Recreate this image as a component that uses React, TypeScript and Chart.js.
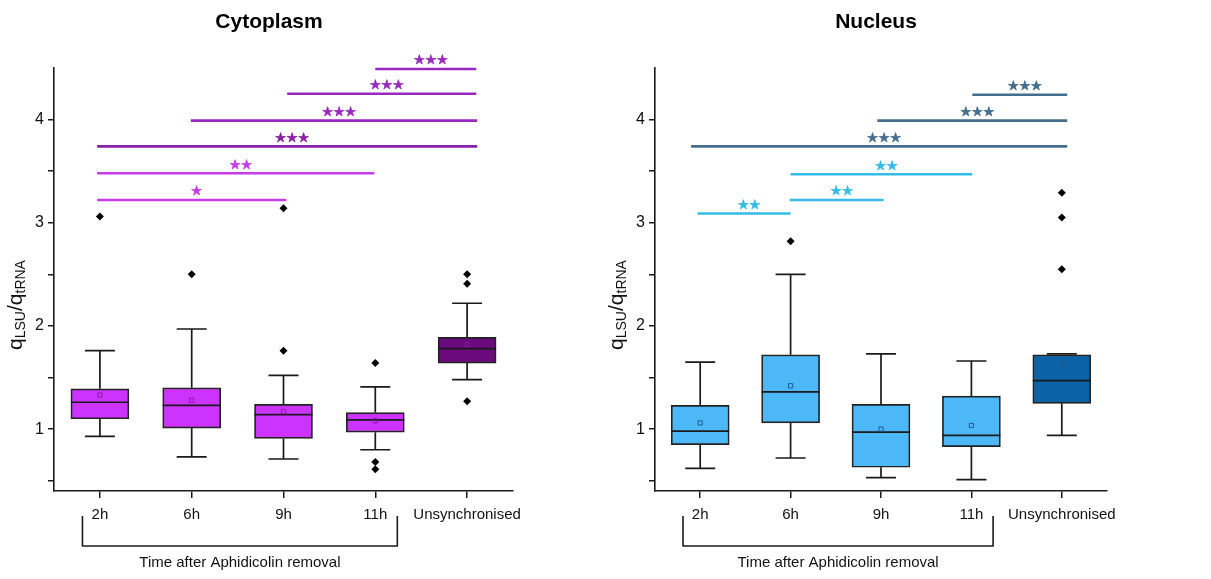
import React, { useEffect, useRef } from 'react';
import { Chart, registerables } from 'chart.js';

Chart.register(...registerables);

// ---------- data ----------
const categories = ['2h', '6h', '9h', '11h', 'Unsynchronised'];
const yMajorTicks = [1, 2, 3, 4];
const yMinorTicks = [0.5, 1.5, 2.5, 3.5];

// Cytoplasm
const cytoWhiskerLow = [0.93, 0.73, 0.71, 0.8, 1.48];
const cytoQ1 = [1.1, 1.01, 0.91, 0.97, 1.64];
const cytoMedian = [1.26, 1.23, 1.14, 1.09, 1.78];
const cytoQ3 = [1.39, 1.4, 1.24, 1.16, 1.89];
const cytoWhiskerHigh = [1.76, 1.97, 1.52, 1.41, 2.22];
const cytoMean = [1.33, 1.28, 1.17, 1.08, 1.82];
const cytoOutliers = [[3.06], [2.5], [1.76, 3.14], [1.64, 0.68, 0.61], [2.5, 2.41, 1.27]];
const cytoSigFrom = [-0.03, -0.03, -0.03, 0.99, 2.04, 3.0];
const cytoSigTo = [2.03, 2.99, 4.11, 4.11, 4.1, 4.1];
const cytoSigY = [3.22, 3.48, 3.74, 3.99, 4.25, 4.49];
const cytoSigLabel = ['*', '**', '***', '***', '***', '***'];

// Nucleus
const nucWhiskerLow = [0.62, 0.72, 0.53, 0.51, 0.94];
const nucQ1 = [0.85, 1.06, 0.63, 0.83, 1.25];
const nucMedian = [0.98, 1.36, 0.97, 0.94, 1.47];
const nucQ3 = [1.23, 1.72, 1.24, 1.32, 1.72];
const nucWhiskerHigh = [1.65, 2.5, 1.73, 1.66, 1.73];
const nucMean = [1.06, 1.42, 1.0, 1.035, 1.64];
const nucOutliers = [[], [2.82], [], [], [2.55, 3.05, 3.29]];
const nucSigFrom = [-0.03, 0.99, 1.0, -0.1, 1.96, 3.01];
const nucSigTo = [1.0, 2.03, 3.01, 4.06, 4.06, 4.06];
const nucSigY = [3.09, 3.22, 3.47, 3.74, 3.99, 4.24];
const nucSigLabel = ['**', '**', '**', '***', '***', '***'];

// bracket under the time points (category units)
const bracketFrom = -0.19;
const bracketTo = 3.24;
const bracketLabel = 'Time after Aphidicolin removal';

const FONT = '"Liberation Sans", Arial, sans-serif';
const TEXT = '#111111';
const H = 579;

type Panel = {
  title: string;
  titleX: number;
  yLabelX: number;
  axisWidth: number;
  padRight: number;
  low: number[];
  q1: number[];
  med: number[];
  q3: number[];
  high: number[];
  mean: number[];
  outliers: number[][];
  sigFrom: number[];
  sigTo: number[];
  sigY: number[];
  sigLabel: string[];
  sigColors: string[];
  boxColors: string[];
  meanColor: string;
};

const cytoPanel: Panel = {
  title: 'Cytoplasm',
  titleX: 269,
  yLabelX: 18,
  axisWidth: 54,
  padRight: 87,
  low: cytoWhiskerLow,
  q1: cytoQ1,
  med: cytoMedian,
  q3: cytoQ3,
  high: cytoWhiskerHigh,
  mean: cytoMean,
  outliers: cytoOutliers,
  sigFrom: cytoSigFrom,
  sigTo: cytoSigTo,
  sigY: cytoSigY,
  sigLabel: cytoSigLabel,
  sigColors: ['#c43de6', '#c43de6', '#8a1fa8', '#9a28c0', '#9a28c0', '#9a28c0'],
  boxColors: ['#cc33ff', '#cc33ff', '#cc33ff', '#cc33ff', '#6a0a7c'],
  meanColor: '#8a1aa0',
};

const nucPanel: Panel = {
  title: 'Nucleus',
  titleX: 276,
  yLabelX: 19,
  axisWidth: 55,
  padRight: 104,
  low: nucWhiskerLow,
  q1: nucQ1,
  med: nucMedian,
  q3: nucQ3,
  high: nucWhiskerHigh,
  mean: nucMean,
  outliers: nucOutliers,
  sigFrom: nucSigFrom,
  sigTo: nucSigTo,
  sigY: nucSigY,
  sigLabel: nucSigLabel,
  sigColors: ['#33bde6', '#33bde6', '#33bde6', '#436e8e', '#436e8e', '#436e8e'],
  boxColors: ['#4db8f8', '#4db8f8', '#4db8f8', '#4db8f8', '#0b62a6'],
  meanColor: '#1f5a8a',
};

function BoxPanel({ panel, left, width }: { panel: Panel; left: number; width: number }) {
  const ref = useRef<HTMLCanvasElement>(null);

  useEffect(() => {
    const cv = ref.current;
    if (!cv) return;
    const p = panel;

    const plugin = {
      id: 'boxExtras',
      afterDatasetDraw(chart: any, args: any) {
        if (args.index !== 0) return;
        const ctx = chart.ctx;
        const xs = chart.scales.x;
        const ys = chart.scales.y;
        const meta = chart.getDatasetMeta(0);
        const cap = 30;
        ctx.save();
        ctx.strokeStyle = '#1a1a1a';
        ctx.lineWidth = 1.7;
        categories.forEach((_, i) => {
          const px = xs.getPixelForValue(i);
          const w = meta.data[i].width;
          const yLo = ys.getPixelForValue(p.low[i]);
          const yQ1 = ys.getPixelForValue(p.q1[i]);
          const yMed = ys.getPixelForValue(p.med[i]);
          const yQ3 = ys.getPixelForValue(p.q3[i]);
          const yHi = ys.getPixelForValue(p.high[i]);
          ctx.beginPath();
          ctx.moveTo(px, yQ3);
          ctx.lineTo(px, yHi);
          ctx.moveTo(px - cap / 2, yHi);
          ctx.lineTo(px + cap / 2, yHi);
          ctx.moveTo(px, yQ1);
          ctx.lineTo(px, yLo);
          ctx.moveTo(px - cap / 2, yLo);
          ctx.lineTo(px + cap / 2, yLo);
          ctx.moveTo(px - w / 2, yMed);
          ctx.lineTo(px + w / 2, yMed);
          ctx.stroke();
        });
        ctx.restore();
      },
      afterDraw(chart: any) {
        const ctx = chart.ctx;
        const xs = chart.scales.x;
        const ys = chart.scales.y;
        ctx.save();
        // significance stars
        ctx.font = '13px "DejaVu Sans", sans-serif';
        ctx.textAlign = 'center';
        ctx.textBaseline = 'middle';
        ctx.lineWidth = 0.6;
        ctx.lineJoin = 'round';
        p.sigLabel.forEach((lab, k) => {
          const mid = (xs.getPixelForValue(p.sigFrom[k]) + xs.getPixelForValue(p.sigTo[k])) / 2 + 5;
          const y = ys.getPixelForValue(p.sigY[k]);
          ctx.fillStyle = p.sigColors[k];
          ctx.strokeStyle = p.sigColors[k];
          const n = lab.length;
          for (let j = 0; j < n; j++) {
            const sx = mid + (j - (n - 1) / 2) * 11.5;
            ctx.fillText('★', sx, y - 8);
            ctx.strokeText('★', sx, y - 8);
          }
        });
        // title
        ctx.fillStyle = '#000';
        ctx.font = `bold 21px ${FONT}`;
        ctx.fillText(p.title, p.titleX, 22);
        // y axis label q_LSU / q_tRNA
        const big = `21px ${FONT}`;
        const small = `14px ${FONT}`;
        const parts: [string, string, number][] = [
          ['q', big, 0],
          ['LSU', small, 5],
          ['/q', big, 0],
          ['tRNA', small, 5],
        ];
        let total = 0;
        parts.forEach(([t, f]) => {
          ctx.font = f;
          total += ctx.measureText(t).width;
        });
        ctx.translate(p.yLabelX, 305);
        ctx.rotate(-Math.PI / 2);
        ctx.textAlign = 'left';
        ctx.textBaseline = 'middle';
        ctx.fillStyle = TEXT;
        let cx = -total / 2;
        parts.forEach(([t, f, dy]) => {
          ctx.font = f;
          ctx.fillText(t, cx, dy - 2);
          cx += ctx.measureText(t).width;
        });
        ctx.setTransform(1, 0, 0, 1, 0, 0);
        // bracket
        const bx0 = xs.getPixelForValue(bracketFrom);
        const bx1 = xs.getPixelForValue(bracketTo);
        ctx.strokeStyle = '#1a1a1a';
        ctx.lineWidth = 1.6;
        ctx.beginPath();
        ctx.moveTo(bx0, 516);
        ctx.lineTo(bx0, 546);
        ctx.lineTo(bx1, 546);
        ctx.lineTo(bx1, 516);
        ctx.stroke();
        ctx.font = `15px ${FONT}`;
        ctx.textAlign = 'center';
        ctx.textBaseline = 'middle';
        ctx.fillStyle = TEXT;
        ctx.fillText(bracketLabel, (bx0 + bx1) / 2, 563);
        ctx.restore();
      },
    };

    const outlierPts: { x: number; y: number }[] = [];
    p.outliers.forEach((arr, i) => arr.forEach((v) => outlierPts.push({ x: i, y: v })));

    const sigDatasets = p.sigY.map((y, k) => ({
      type: 'line' as const,
      data: [
        { x: p.sigFrom[k], y },
        { x: p.sigTo[k], y },
      ],
      borderColor: p.sigColors[k],
      borderWidth: 2.6,
      pointRadius: 0,
      fill: false,
      clip: false as any,
      order: 5,
    }));

    const chart = new Chart(cv, {
      type: 'bar',
      data: {
        datasets: [
          {
            type: 'bar',
            data: categories.map((_, i) => ({ x: i, y: [p.q1[i], p.q3[i]] })) as any,
            backgroundColor: p.boxColors,
            borderColor: '#222',
            borderWidth: 1.7,
            borderSkipped: false,
            barThickness: 58,
            order: 10,
          },
          ...sigDatasets,
          {
            type: 'scatter',
            data: outlierPts,
            pointStyle: 'rectRot',
            pointRadius: 4,
            backgroundColor: '#000',
            borderColor: '#000',
            borderWidth: 0,
            order: 1,
          },
          {
            type: 'scatter',
            data: p.mean.map((v, i) => ({ x: i, y: v })),
            pointStyle: 'rect',
            pointRadius: 3,
            backgroundColor: 'rgba(0,0,0,0)',
            borderColor: p.meanColor,
            borderWidth: 1,
            order: 0,
          },
        ] as any,
      },
      options: {
        responsive: false,
        animation: false,
        devicePixelRatio: 1,
        layout: { padding: { top: 68, right: p.padRight, bottom: 0, left: 0 } },
        plugins: { legend: { display: false }, tooltip: { enabled: false }, title: { display: false } },
        scales: {
          x: {
            type: 'linear',
            min: -0.5,
            max: 4.5,
            offset: false,
            afterBuildTicks: (s: any) => {
              s.ticks = categories.map((_, i) => ({ value: i }));
            },
            afterFit: (s: any) => {
              s.height = 88;
            },
            ticks: {
              callback: (v: any) => categories[Math.round(Number(v))] ?? '',
              font: { family: FONT, size: 15 },
              color: TEXT,
              padding: 8,
              autoSkip: false,
              maxRotation: 0,
              minRotation: 0,
            },
            grid: { offset: false, drawOnChartArea: false, drawTicks: true, tickLength: 7, color: '#1a1a1a', lineWidth: 1.5 },
            border: { display: true, color: '#1a1a1a', width: 1.6 },
          },
          y: {
            type: 'linear',
            min: 0.4,
            max: 4.5,
            afterBuildTicks: (s: any) => {
              s.ticks = [...yMinorTicks, ...yMajorTicks].sort((a, b) => a - b).map((v) => ({ value: v }));
            },
            afterFit: (s: any) => {
              s.width = p.axisWidth;
            },
            ticks: {
              callback: (v: any) => (Number.isInteger(Number(v)) ? String(v) : ''),
              font: { family: FONT, size: 16 },
              color: TEXT,
              padding: 4,
            },
            grid: { offset: false, drawOnChartArea: false, drawTicks: true, tickLength: 6, color: '#1a1a1a', lineWidth: 1.5 },
            border: { display: true, color: '#1a1a1a', width: 1.6 },
          },
        },
      } as any,
      plugins: [plugin],
    });

    return () => chart.destroy();
  }, [panel]);

  return (
    <div style={{ position: 'absolute', left, top: 0, width, height: H }}>
      <canvas ref={ref} width={width} height={H} style={{ width, height: H, display: 'block' }} />
    </div>
  );
}

export default function App() {
  return (
    <div style={{ position: 'absolute', left: 0, top: 0, width: 1211, height: H, background: '#ffffff', overflow: 'hidden' }}>
      <BoxPanel panel={cytoPanel} left={0} width={600} />
      <BoxPanel panel={nucPanel} left={600} width={611} />
    </div>
  );
}
